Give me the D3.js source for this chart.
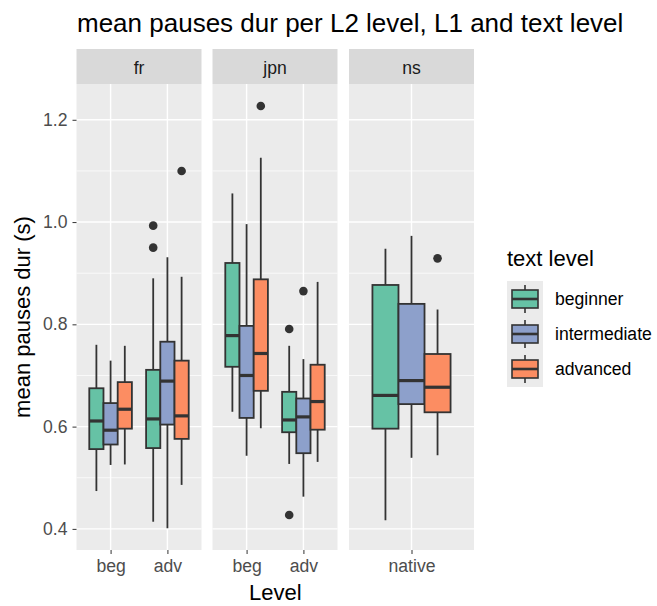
<!DOCTYPE html>
<html>
<head>
<meta charset="utf-8">
<script src="https://cdn.jsdelivr.net/npm/d3@7"></script>
<style>
  body { margin: 0; background: #fff; }
  text { font-family: "Liberation Sans", Arial, sans-serif; }
</style>
</head>
<body>
<svg id="chart" width="657" height="606"></svg>
<script>
// facets, levels and text levels
var facets = ["fr", "jpn", "ns"];
var facetLevels = { fr: ["beg", "adv"], jpn: ["beg", "adv"], ns: ["native"] };
var textLevels = ["beginner", "intermediate", "advanced"];
var colors = ["#66C2A5", "#8DA0CB", "#FC8D62"];
var yTicks = [0.4, 0.6, 0.8, 1.0, 1.2];

// box stats: [facet, level, textLevel, lowWhisker, q1, median, q3, highWhisker]
var boxes = [
  ["fr", "beg", "beginner",     0.474, 0.556, 0.611, 0.675, 0.760],
  ["fr", "beg", "intermediate", 0.525, 0.565, 0.593, 0.646, 0.729],
  ["fr", "beg", "advanced",     0.526, 0.596, 0.634, 0.687, 0.758],
  ["fr", "adv", "beginner",     0.414, 0.558, 0.615, 0.711, 0.890],
  ["fr", "adv", "intermediate", 0.401, 0.604, 0.689, 0.766, 0.931],
  ["fr", "adv", "advanced",     0.486, 0.576, 0.621, 0.729, 0.893],
  ["jpn", "beg", "beginner",     0.629, 0.717, 0.778, 0.920, 1.056],
  ["jpn", "beg", "intermediate", 0.543, 0.617, 0.700, 0.797, 0.996],
  ["jpn", "beg", "advanced",     0.597, 0.670, 0.743, 0.888, 1.126],
  ["jpn", "adv", "beginner",     0.527, 0.589, 0.613, 0.668, 0.758],
  ["jpn", "adv", "intermediate", 0.463, 0.548, 0.619, 0.655, 0.732],
  ["jpn", "adv", "advanced",     0.531, 0.594, 0.649, 0.721, 0.883],
  ["ns", "native", "beginner",     0.417, 0.596, 0.661, 0.877, 0.948],
  ["ns", "native", "intermediate", 0.539, 0.644, 0.690, 0.840, 0.973],
  ["ns", "native", "advanced",     0.544, 0.628, 0.677, 0.742, 0.829]
];

// outliers: [facet, level, textLevel, value]
var outliers = [
  ["fr", "adv", "beginner", 0.993],
  ["fr", "adv", "beginner", 0.950],
  ["fr", "adv", "advanced", 1.100],
  ["jpn", "beg", "advanced", 1.227],
  ["jpn", "adv", "beginner", 0.791],
  ["jpn", "adv", "beginner", 0.427],
  ["jpn", "adv", "intermediate", 0.865],
  ["ns", "native", "advanced", 0.929]
];

var svg = d3.select("#chart");
var stripTop = 49, panelTop = 84, panelBottom = 550, panelW = 125;
var panelLefts = [76.5, 212.5, 349];

var y = d3.scaleLinear().domain([0.3587, 1.27]).range([panelBottom, panelTop]);
var tl = d3.scaleBand().domain(textLevels).range([-0.375, 0.375]);
var col = d3.scaleOrdinal().domain(textLevels).range(colors);

// title
svg.append("text")
    .attr("x", 77).attr("y", 32)
    .style("font-size", "26px").style("fill", "#000")
    .text("mean pauses dur per L2 level, L1 and text level");

facets.forEach(function(f, i) {
  var x0 = panelLefts[i];
  var x = d3.scalePoint().domain(facetLevels[f]).range([0, panelW]).padding(0.6);
  var step = x.step();
  var g = svg.append("g").attr("transform", "translate(" + x0 + ",0)");

  // strip
  g.append("rect").attr("x", 0).attr("y", stripTop).attr("width", panelW).attr("height", panelTop - stripTop)
      .attr("fill", "#D9D9D9");
  g.append("text").attr("x", panelW / 2).attr("y", 73.5).attr("text-anchor", "middle")
      .style("font-size", "17.6px").style("fill", "#1A1A1A").text(f);

  // panel
  g.append("rect").attr("x", 0).attr("y", panelTop).attr("width", panelW)
      .attr("height", panelBottom - panelTop).attr("fill", "#EBEBEB");

  g.selectAll(".minor").data([0.5, 0.7, 0.9, 1.1]).enter().append("line")
      .attr("x1", 0).attr("x2", panelW)
      .attr("y1", function(d) { return y(d); }).attr("y2", function(d) { return y(d); })
      .attr("stroke", "#fff").attr("stroke-width", 0.7);
  g.selectAll(".major").data(yTicks).enter().append("line")
      .attr("x1", 0).attr("x2", panelW)
      .attr("y1", function(d) { return y(d); }).attr("y2", function(d) { return y(d); })
      .attr("stroke", "#fff").attr("stroke-width", 1.4);
  g.selectAll(".vgrid").data(facetLevels[f]).enter().append("line")
      .attr("x1", function(d) { return x(d); }).attr("x2", function(d) { return x(d); })
      .attr("y1", panelTop).attr("y2", panelBottom)
      .attr("stroke", "#fff").attr("stroke-width", 1.4);

  // x axis
  var xa = g.append("g").attr("transform", "translate(0," + panelBottom + ")")
      .call(d3.axisBottom(x).tickSize(4).tickPadding(6));
  xa.select(".domain").remove();
  xa.selectAll("line").attr("stroke", "#333");
  xa.selectAll("text").style("font-size", "17.6px").style("fill", "#4D4D4D")
      .style("font-family", "Liberation Sans, Arial, sans-serif");

  // boxes
  var bw = 0.25 * step;
  var data = boxes.filter(function(d) { return d[0] === f; });
  var bx = function(d) { return x(d[1]) + (tl(d[2]) + tl.bandwidth() / 2) * step; };
  var bg = g.selectAll(".box").data(data).enter().append("g");
  bg.append("line").attr("x1", bx).attr("x2", bx)
      .attr("y1", function(d) { return y(d[3]); }).attr("y2", function(d) { return y(d[7]); })
      .attr("stroke", "#333").attr("stroke-width", 1.8);
  bg.append("rect")
      .attr("x", function(d) { return bx(d) - bw / 2; })
      .attr("y", function(d) { return y(d[6]); })
      .attr("width", bw)
      .attr("height", function(d) { return y(d[4]) - y(d[6]); })
      .attr("fill", function(d) { return col(d[2]); })
      .attr("stroke", "#333").attr("stroke-width", 1.8);
  bg.append("line")
      .attr("x1", function(d) { return bx(d) - bw / 2; })
      .attr("x2", function(d) { return bx(d) + bw / 2; })
      .attr("y1", function(d) { return y(d[5]); }).attr("y2", function(d) { return y(d[5]); })
      .attr("stroke", "#333").attr("stroke-width", 3.2);

  g.selectAll(".out").data(outliers.filter(function(d) { return d[0] === f; }))
    .enter().append("circle")
      .attr("cx", bx)
      .attr("cy", function(d) { return y(d[3]); })
      .attr("r", 4.3).attr("fill", "#333");
});

// y axis
var ya = svg.append("g").attr("transform", "translate(" + panelLefts[0] + ",0)")
    .call(d3.axisLeft(y).tickValues(yTicks).tickSize(4).tickPadding(5)
      .tickFormat(d3.format(".1f")));
ya.select(".domain").remove();
ya.selectAll("line").attr("stroke", "#333");
ya.selectAll("text").style("font-size", "17.6px").style("fill", "#4D4D4D")
    .style("font-family", "Liberation Sans, Arial, sans-serif");

svg.append("text")
    .attr("transform", "translate(30," + ((panelTop + panelBottom) / 2) + ") rotate(-90)")
    .attr("text-anchor", "middle")
    .style("font-size", "22px").style("fill", "#000")
    .text("mean pauses dur (s)");

svg.append("text")
    .attr("x", (panelLefts[0] + panelLefts[2] + panelW) / 2).attr("y", 600)
    .attr("text-anchor", "middle")
    .style("font-size", "22px").style("fill", "#000")
    .text("Level");

// legend
var lg = svg.append("g").attr("transform", "translate(507,0)");
lg.append("text").attr("x", 0).attr("y", 266)
    .style("font-size", "22px").style("fill", "#000").text("text level");
lg.append("rect").attr("x", 0).attr("y", 281).attr("width", 36).attr("height", 106)
    .attr("fill", "#EBEBEB");
var li = lg.selectAll(".li").data(textLevels).enter().append("g")
    .attr("transform", function(d, i) { return "translate(0," + (299 + i * 35) + ")"; });
li.append("line").attr("x1", 18).attr("x2", 18).attr("y1", -14).attr("y2", 14)
    .attr("stroke", "#333").attr("stroke-width", 1.6);
li.append("rect").attr("x", 5).attr("y", -9).attr("width", 26).attr("height", 18)
    .attr("fill", function(d) { return col(d); }).attr("stroke", "#333").attr("stroke-width", 1.6);
li.append("line").attr("x1", 5).attr("x2", 31).attr("y1", 0).attr("y2", 0)
    .attr("stroke", "#333").attr("stroke-width", 2.6);
li.append("text").attr("x", 48).attr("y", 6)
    .style("font-size", "17.6px").style("fill", "#000").text(function(d) { return d; });
</script>
</body>
</html>
